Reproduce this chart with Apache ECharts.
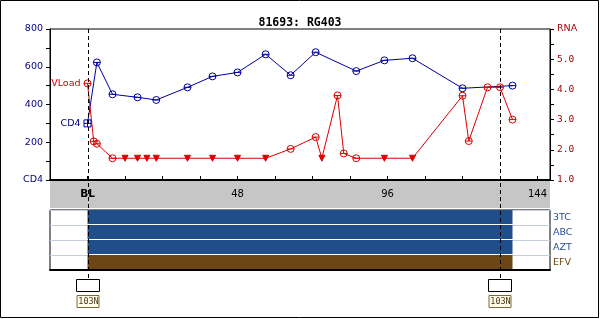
<!DOCTYPE html>
<html>
<head>
<meta charset="utf-8">
<script src="https://cdn.jsdelivr.net/npm/echarts@6/dist/echarts.min.js"></script>
<style>html,body{margin:0;padding:0;background:#fff}#c{width:600px;height:319px}</style>
</head>
<body>
<div id="c"></div>
<script>
// ---- data ----
const titleText = '81693: RG403';
const cd4Days = [0, 3, 8, 16, 22, 32, 40, 48, 57, 65, 73, 86, 95, 104, 120, 136];
const cd4Vals = [300, 623, 454, 438, 424, 491, 549, 570, 666, 555, 677, 577, 634, 645, 486, 500];
const vlDays  = [0, 2, 3, 8, 12, 16, 19, 22, 32, 40, 48, 57, 65, 73, 75, 80, 82, 86, 95, 104, 120, 122, 128, 132, 136];
const vlVals  = [4.2, 2.28, 2.2, 1.72, 1.72, 1.72, 1.72, 1.72, 1.72, 1.72, 1.72, 1.72, 2.03, 2.42, 1.72, 3.8, 1.88, 1.72, 1.72, 1.72, 3.79, 2.29, 4.07, 4.07, 3.0];
const vlBelow = [0, 0, 0, 0, 1, 1, 1, 1, 1, 1, 1, 1, 0, 0, 1, 0, 0, 0, 1, 1, 0, 0, 0, 0, 0];
const drugs     = ['3TC', 'ABC', 'AZT', 'EFV'];
const drugStart = [0, 0, 0, 0];
const drugEnd   = [136, 136, 136, 136];
const eventDays   = [0, 132];
const eventLabels = ['103N', '103N'];
const xTickLabels = {0: 'BL', 48: '48', 96: '96', 144: '144'};

// ---- styles ----
const BLUE = '#00009c', RED = '#dd0000', NAVY = '#000080', DRED = '#990000';
const BARBLUE = '#1f4e8a', BROWN = '#6b4614';
const drugColors = {'3TC': BARBLUE, 'ABC': BARBLUE, 'AZT': BARBLUE, 'EFV': BROWN};
const FONT = 'DejaVu Sans';
const circBar = 'path://M0,5A5,5 0 1,0 10,5A5,5 0 1,0 0,5ZM0,5L10,5';
const sqCross = 'path://M0,0H10V10H0ZM5,0V10M0,5H10';

const cd4Data = cd4Days.map((d, i) => {
  const item = {value: [d, cd4Vals[i]]};
  if (i === 0) {
    item.symbol = sqCross;
    item.label = {show: true, position: 'left', distance: 3, formatter: 'CD4', color: NAVY, fontFamily: FONT, fontSize: 9.5};
  }
  return item;
});
const vlData = vlDays.map((d, i) => {
  const item = {value: [d, vlVals[i]]};
  if (vlBelow[i]) {
    item.symbol = 'triangle'; item.symbolRotate = 180; item.symbolSize = 6;
    item.itemStyle = {color: RED, borderColor: RED};
  }
  if (i === 0) {
    item.label = {show: true, position: 'left', distance: 3, formatter: 'VLoad', color: '#cc0000', fontFamily: FONT, fontSize: 9.5};
  }
  return item;
});

const G = {left: 50, width: 500};
const chart = echarts.init(document.getElementById('c'), null, {renderer: 'canvas'});
const xBase = {min: -12, max: 148, interval: 12, type: 'value'};
chart.setOption({
  animation: false,
  backgroundColor: '#fff',
  title: {text: titleText, left: 'center', top: 12, textStyle: {fontFamily: 'DejaVu Sans Mono', fontWeight: 'bold', fontSize: 11.5, color: '#000'}},
  graphic: [{type: 'rect', shape: {x: 0.5, y: 0.5, width: 598, height: 317}, style: {fill: 'none', stroke: '#000', lineWidth: 1}, silent: true}],
  grid: [
    {left: G.left, top: 29, width: G.width, height: 151, show: true, borderColor: '#000', borderWidth: 1, backgroundColor: '#fff'},
    {left: G.left, top: 181, width: G.width, height: 27, show: true, borderWidth: 0, backgroundColor: '#c6c6c6'},
    {left: G.left, top: 210, width: G.width, height: 60, show: true, borderColor: '#000', borderWidth: 1, backgroundColor: '#fff'},
    {left: G.left, top: 29, width: G.width, height: 280, show: false}
  ],
  xAxis: [
    Object.assign({}, xBase, {gridIndex: 0, position: 'bottom', z: 5,
      axisLine: {show: true, onZero: false, lineStyle: {color: '#000', width: 2}},
      axisTick: {show: true, inside: true, length: 4, lineStyle: {color: '#000'}},
      splitLine: {show: false},
      axisLabel: {margin: 9, hideOverlap: false, fontFamily: FONT, fontSize: 10, color: '#000', showMinLabel: true, showMaxLabel: false,
        formatter: v => v === 0 ? '{b|BL}' : (xTickLabels[v] || ''),
        rich: {b: {fontWeight: 'bold', fontFamily: FONT, fontSize: 10.5, color: '#000'}}}}),
    Object.assign({}, xBase, {gridIndex: 1, show: false}),
    Object.assign({}, xBase, {gridIndex: 2, axisLine: {show: true, onZero: false, lineStyle: {color: '#000', width: 2}}, axisTick: {show: false}, axisLabel: {show: false}, splitLine: {show: false}}),
    Object.assign({}, xBase, {gridIndex: 3, show: false})
  ],
  yAxis: [
    {type: 'value', gridIndex: 0, position: 'left', min: 0, max: 800, interval: 100,
      axisLine: {show: true, onZero: false, lineStyle: {color: '#000'}}, axisTick: {show: true, length: 4, lineStyle: {color: '#000'}},
      splitLine: {show: false},
      axisLabel: {margin: 7, hideOverlap: false, showMinLabel: true, showMaxLabel: true, fontFamily: FONT, fontSize: 9.5, color: NAVY, formatter: v => v === 0 ? 'CD4' : (v % 200 === 0 ? String(v) : '')}},
    {type: 'value', gridIndex: 0, position: 'right', min: 1, max: 6, interval: 0.5,
      axisLine: {show: true, onZero: false, lineStyle: {color: '#000'}}, axisTick: {show: true, length: 4, lineStyle: {color: '#000'}},
      splitLine: {show: false},
      axisLabel: {margin: 7, hideOverlap: false, showMinLabel: true, showMaxLabel: true, fontFamily: 'DejaVu Sans Mono', fontSize: 9.5, color: DRED,
        formatter: v => Math.abs(v - 6) < 1e-9 ? '{s|RNA}' : (Math.abs(v - Math.round(v)) < 1e-9 ? v.toFixed(1) : ''),
        rich: {s: {fontFamily: FONT, fontSize: 9.5, color: DRED}}}},
    {type: 'value', gridIndex: 1, show: false, min: 0, max: 1},
    {type: 'category', gridIndex: 2, position: 'right', data: drugs.slice().reverse(), boundaryGap: true,
      axisLine: {show: false, onZero: false}, axisTick: {show: false},
      splitLine: {show: true, lineStyle: {color: '#c4cee0', width: 1}},
      axisLabel: {margin: 3, fontFamily: FONT, fontSize: 9.5, color: v => v === 'EFV' ? BROWN : '#2a4f8f'}},
    {type: 'value', gridIndex: 3, show: false, min: 0, max: 1}
  ],
  series: [
    {type: 'custom', xAxisIndex: 2, yAxisIndex: 3, z: 3,
      data: drugs.map((d, i) => [drugStart[i], drugEnd[i], d, i]),
      encode: {x: [0, 1], y: 2},
      renderItem: (params, api) => {
        const p0 = api.coord([api.value(0), api.value(2)]);
        const p1 = api.coord([api.value(1), api.value(2)]);
        const band = api.size([0, 1])[1];
        const top = p0[1] - band / 2;
        const col = drugColors[drugs[api.value(3)]];
        return {type: 'rect', shape: {x: p0[0], y: Math.round(top), width: p1[0] - p0[0], height: band - 1}, style: {fill: col}};
      }},
    {type: 'line', name: 'CD4', xAxisIndex: 0, yAxisIndex: 0, z: 4, data: cd4Data,
      symbol: circBar, symbolSize: 7, showAllSymbol: true,
      lineStyle: {color: BLUE, width: 1}, itemStyle: {color: 'rgba(255,255,255,0)', borderColor: BLUE, borderWidth: 1}},
    {type: 'line', name: 'VLoad', xAxisIndex: 0, yAxisIndex: 1, z: 4, data: vlData,
      symbol: circBar, symbolSize: 7, showAllSymbol: true,
      lineStyle: {color: RED, width: 1}, itemStyle: {color: 'rgba(255,255,255,0)', borderColor: RED, borderWidth: 1}},
    {type: 'custom', xAxisIndex: 3, yAxisIndex: 4, z: 20,
      data: eventDays.map((d, i) => [d, 1, eventLabels[i]]),
      renderItem: (params, api) => {
        const cs = params.coordSys;
        const x = Math.round(api.coord([api.value(0), 1])[0]) + 0.5;
        const y0 = cs.y;
        const lineEnd = y0 + 250;
        return {type: 'group', children: [
          {type: 'line', shape: {x1: x, y1: y0, x2: x, y2: lineEnd}, style: {stroke: '#000', lineWidth: 1, lineDash: [4, 3]}},
          {type: 'rect', shape: {x: x - 12, y: lineEnd + 0.5, width: 23, height: 12}, style: {fill: '#fff', stroke: '#000', lineWidth: 1}},
          {type: 'rect', shape: {x: x - 11.5, y: lineEnd + 16.5, width: 22, height: 12}, style: {fill: '#fffbe6', stroke: '#7a6a3a', lineWidth: 1}},
          {type: 'text', style: {x: x, y: lineEnd + 23, text: api.value(2), align: 'center', verticalAlign: 'middle', fill: '#4a3a1a', font: '8.5px "DejaVu Sans Mono"'}}
        ]};
      }}
  ]
});
</script>
</body>
</html>
